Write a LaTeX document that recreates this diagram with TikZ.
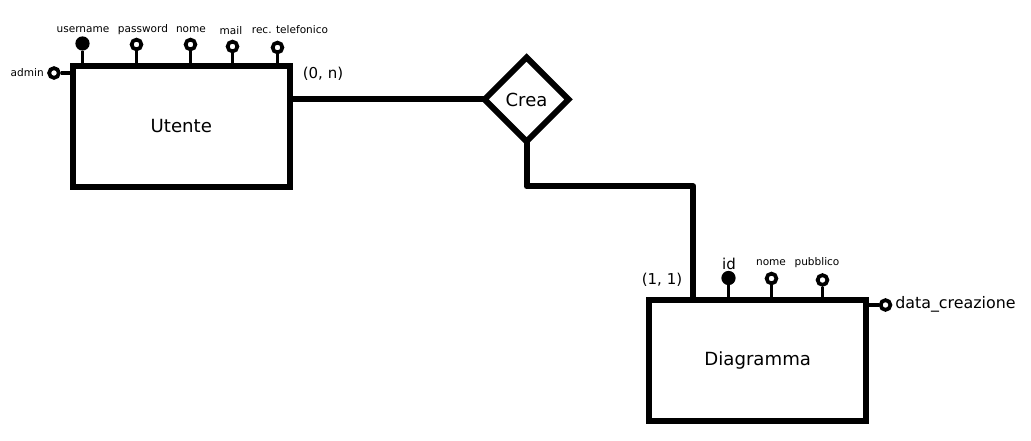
\documentclass[tikz,border=0pt]{standalone}
\usepackage{fontspec}
\setmainfont{DejaVu Sans}
\usetikzlibrary{shapes.geometric}
\tikzset{
  entity/.style={draw, line width=4.5pt, minimum width=162.75pt, minimum height=91pt, inner sep=0pt, font=\fontsize{13.6}{16}\selectfont},
  relation/.style={draw, diamond, line width=4.5pt, minimum width=63pt, minimum height=63pt, inner sep=0pt, outer sep=0pt, font=\fontsize{13.5}{16}\selectfont},
  link/.style={line width=4.5pt, line join=round},
  stem/.style={line width=2.4pt},
  attr/.style={circle, draw, fill=white, line width=2.8pt, minimum size=7.3pt, inner sep=0pt},
  keyattr/.style={circle, fill=black, minimum size=10.7pt, inner sep=0pt},
  small/.style={font=\fontsize{7.9}{9}\selectfont, inner sep=0pt},
  side/.style={font=\fontsize{11.25}{13}\selectfont, inner sep=0pt},
}
\begin{document}
\begin{tikzpicture}[x=0.75pt, y=-0.75pt]
\useasboundingbox (0,0) rectangle (1031,441);
% entities and relation
\node[entity] (U) at (181.3,126.3) {Utente};
\node[entity] (G) at (757.7,360.3) {Diagramma};
\node[relation] (R) at (526.5,99.5) {Crea};
% connectors
\draw[link] (R.west) -- (R.west -| U.east);
\coordinate (bend) at (693.3,186.5);
\draw[link] (R.south) |- (bend) -- (bend |- G.north);
\node[side] (card1) at (323,74) {(0, n)};
\node[side] (card2) at (662,280) {(1, 1)};
% Utente attributes
\node[keyattr] (a1) at (82.5,43.5) {};
\node[attr] (a2) at (136.5,44.5) {};
\node[attr] (a3) at (190.5,44.5) {};
\node[attr] (a4) at (232.5,46.5) {};
\node[attr] (a5) at (277.5,47.5) {};
\foreach \a in {a1,a2,a3,a4,a5} \draw[stem] (\a.south) -- (\a.south |- U.north);
\node[small] (l1) at (83,30) {username};
\node[small] (l2) at (143,30) {password};
\node[small] (l3) at (191,30) {nome};
\node[small] (l4) at (231,31) {mail};
\node[small] (l5) at (290,30) {rec. telefonico};
\node[attr] (a6) at (54,73) {};
\draw[stem] (a6.east) -- (a6.east -| U.west);
\node[small, anchor=east] (l6) at (44,72.5) {admin};
% Diagramma attributes
\node[keyattr] (b1) at (728.5,278) {};
\node[attr] (b2) at (771.5,278.5) {};
\node[attr] (b3) at (822.5,280) {};
\foreach \b in {b1,b2,b3} \draw[stem] (\b.south) -- (\b.south |- G.north);
\node[side] (m1) at (729,264) {id};
\node[small] (m2) at (771,263) {nome};
\node[small] (m3) at (817,263) {pubblico};
\node[attr] (b4) at (885.5,305) {};
\draw[stem] (b4.west) -- (b4.west -| G.east);
\node[side, anchor=west, font=\fontsize{11.9}{14}\selectfont] (m4) at (895,304.5) {data\_creazione};
\end{tikzpicture}
\end{document}
